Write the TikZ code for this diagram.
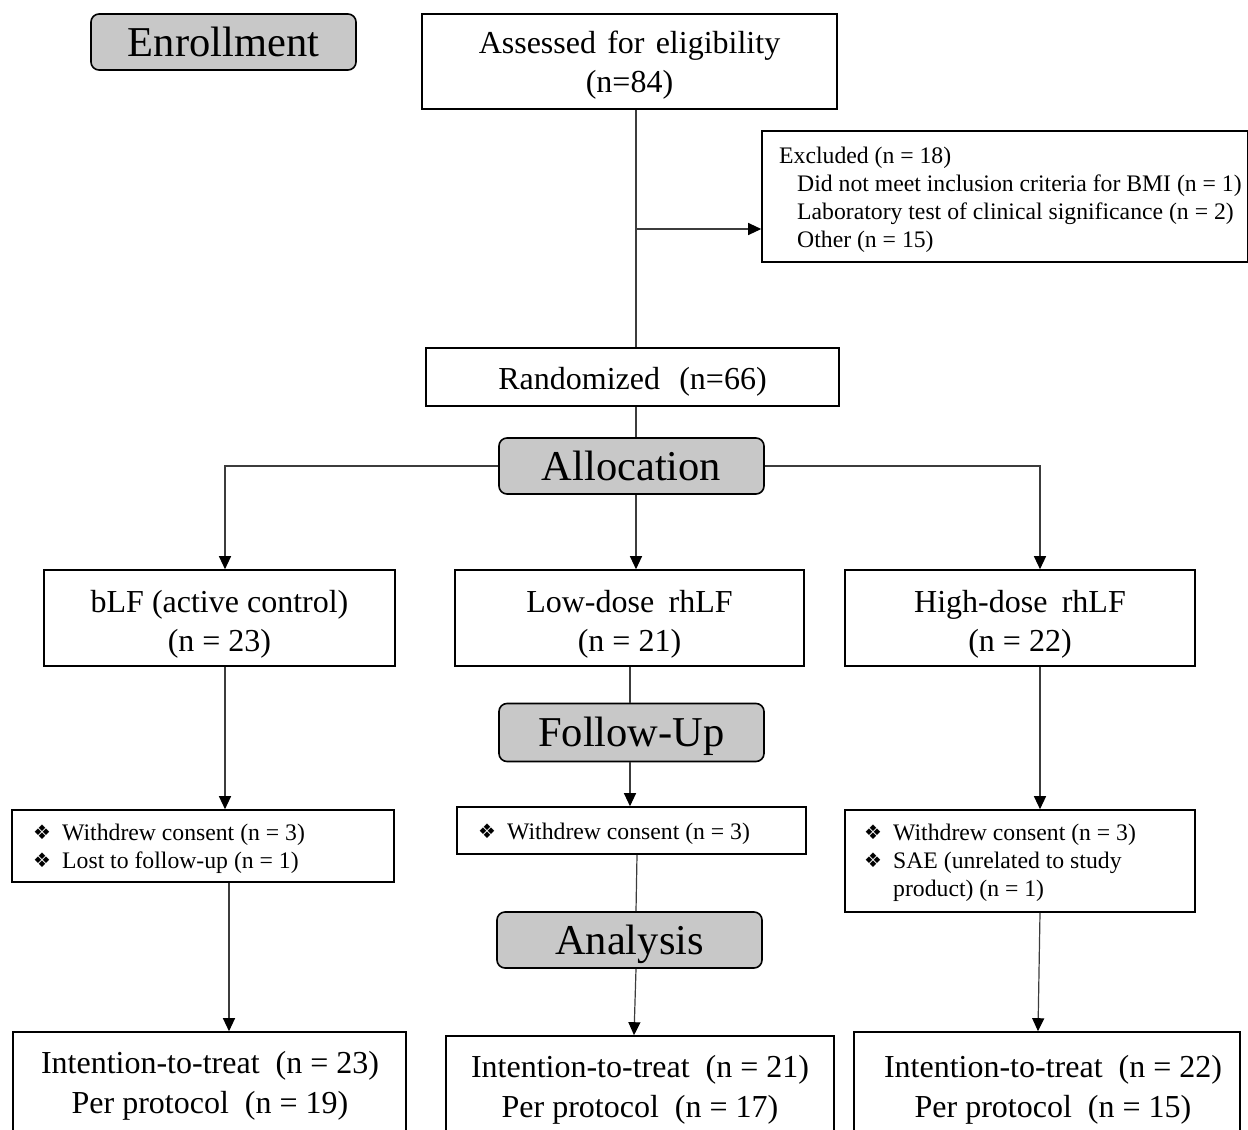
\documentclass[tikz,border=0pt]{standalone}
\usepackage{fontspec}
\setmainfont{Liberation Serif}
\newfontfamily\symfont{DejaVu Sans}
\usetikzlibrary{arrows.meta}
\definecolor{phasegray}{RGB}{200,200,200}
\definecolor{linegray}{RGB}{60,60,60}
\newcommand{\bul}{\makebox[29pt][l]{\raisebox{1pt}{\fontsize{20}{24}\selectfont\symfont ❖}}}
\begin{document}
\begin{tikzpicture}[x=1pt,y=-1pt,
 box/.style={draw=black,line width=1.6pt,inner sep=0pt,fill=white},
 phase/.style={draw=black,line width=1.6pt,rounded corners=8pt,fill=phasegray,inner sep=0pt,minimum width=265pt,minimum height=56pt,font=\fontsize{42.5}{50}\selectfont,text height=28pt,text depth=0pt},
 conn/.style={draw=linegray,line width=1.2pt},
 arr/.style={conn,-{Triangle[length=13pt,width=12pt,color=black]}},
 big/.style={font=\fontsize{32}{39}\selectfont,align=center,inner sep=0pt},
 bigb/.style={font=\fontsize{32}{40}\selectfont,align=center,inner sep=0pt},
 small/.style={font=\fontsize{23.7}{28}\selectfont,align=left,inner sep=0pt},
]
\useasboundingbox (0,0) rectangle (1248,1130);

% phase labels
\node[phase] (enr) at (223.5,42) {Enrollment};
\node[phase] (alloc) at (631.5,466) {Allocation};
\node[phase,minimum height=58pt] (fu) at (631.5,732.5) {Follow-Up};
\node[phase] (ana) at (629.5,940) {Analysis};

% boxes
\node[box,minimum width=415pt,minimum height=95pt] (assess) at (629.5,61.5) {};
\node[big,yshift=-4pt] (assesst) at (assess.center) {Assessed\hspace{0.35em}for\hspace{0.35em}eligibility\\(n=84)};
\node[box,minimum width=486pt,minimum height=131pt] (excl) at (1005,196.5) {};
\node[small,anchor=west] (excltxt) at (779,200) {Excluded (n = 18)\\\hspace*{18pt}Did not meet inclusion criteria for BMI (n = 1)\\\hspace*{18pt}Laboratory test of clinical significance (n = 2)\\\hspace*{18pt}Other (n = 15)};
\node[box,minimum width=413pt,minimum height=58pt] (rand) at (632.5,377) {};
\node[big,yshift=-5pt] (randt) at (rand.center) {Randomized\hspace{0.6em}(n=66)};

\node[box,minimum width=351pt,minimum height=96pt] (g1) at (219.5,618) {};
\node[big,yshift=-6pt] (g1t) at (g1.center) {bLF (active control)\\(n = 23)};
\node[box,minimum width=349pt,minimum height=96pt] (g2) at (629.5,618) {};
\node[big,yshift=-6pt] (g2t) at (g2.center) {Low-dose\hspace{0.45em}rhLF\\(n = 21)};
\node[box,minimum width=350pt,minimum height=96pt] (g3) at (1020,618) {};
\node[big,yshift=-6pt] (g3t) at (g3.center) {High-dose\hspace{0.45em}rhLF\\(n = 22)};

\node[box,minimum width=382pt,minimum height=72pt] (w1) at (203,846) {};
\node[small,anchor=west] (w1t) at (33,849) {\bul Withdrew consent (n = 3)\\\bul Lost to follow-up (n = 1)};
\node[box,minimum width=349pt,minimum height=47pt] (w2) at (631.5,830.5) {};
\node[small,anchor=west] (w2t) at (478,834) {\bul Withdrew consent (n = 3)};
\node[box,minimum width=350pt,minimum height=102pt] (w3) at (1020,861) {};
\node[small,anchor=west] (w3t) at (864,863) {\bul Withdrew consent (n = 3)\\\bul SAE (unrelated to study\\\hspace*{29pt}product) (n = 1)};

\node[box,minimum width=393pt,minimum height=110pt] (b1) at (209.5,1087) {};
\node[bigb] (b1t) at (210,1086) {Intention-to-treat\hspace{0.5em}(n = 23)\\Per protocol\hspace{0.5em}(n = 19)};
\node[box,minimum width=388pt,minimum height=110pt] (b2) at (640,1091) {};
\node[bigb] (b2t) at (640,1090) {Intention-to-treat\hspace{0.5em}(n = 21)\\Per protocol\hspace{0.5em}(n = 17)};
\node[box,minimum width=386pt,minimum height=110pt] (b3) at (1047,1087) {};
\node[bigb] (b3t) at (1053,1090) {Intention-to-treat\hspace{0.5em}(n = 22)\\Per protocol\hspace{0.5em}(n = 15)};

% column coordinates
\coordinate (xm) at (636,0);
\coordinate (xl) at (225,0);
\coordinate (xr) at (1040,0);
\coordinate (br) at (636,229);

% connectors
\draw[conn] (assess.south -| xm) -- (rand.north -| xm);
\draw[arr] (br) -- (br -| excl.west);
\draw[conn] (rand.south -| xm) -- (alloc.north -| xm);
\draw[arr] (alloc.west) -| (xl |- g1.north);
\draw[arr] (alloc.east) -| (xr |- g3.north);
\draw[arr] (alloc.south -| xm) -- (g2.north -| xm);

\draw[arr] (g1.south -| xl) -- (w1.north -| xl);
\coordinate (xl2) at (229,0);
\draw[arr] (w1.south -| xl2) -- (b1.north -| xl2);

\coordinate (xf) at (630,0);
\draw[conn] (g2.south -| xf) -- (fu.north -| xf);
\draw[arr] (fu.south -| xf) -- (w2.north -| xf);
\draw[conn] (w2.south -| 637,0) -- (ana.north -| xm);
\draw[arr] (ana.south -| xm) -- (b2.north -| 634,0);

\draw[arr] (g3.south -| xr) -- (w3.north -| xr);
\draw[arr] (w3.south -| xr) -- (b3.north -| 1038,0);
\end{tikzpicture}
\end{document}
